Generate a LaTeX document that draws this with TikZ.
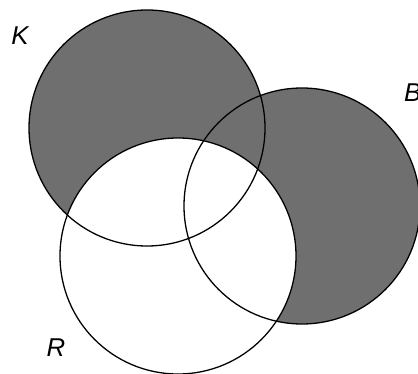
\documentclass[tikz,border=0pt]{standalone}
\usepackage{fontspec}
\setmainfont{Liberation Sans}
\usepackage{xcolor}
\usepackage{tikz}
\definecolor{setgray}{RGB}{111, 111, 111}

\begin{document}
\begin{tikzpicture}[
  x=0.03cm, y=-0.03cm,
  setline/.style={draw=black, line width=1.1pt},
  setlabel/.style={font=\fontsize{22}{26}\selectfont\itshape, inner sep=0pt}
]
\useasboundingbox (0,0) rectangle (418,374);
\clip (0,0) rectangle (418,374);

% Centres of the three sets
\coordinate (kc) at (147,128);
\coordinate (bc) at (302,206);
\coordinate (rc) at (178,256);

% Shaded region: K or B, but not R
\fill[setgray] (kc) circle[radius=118];
\fill[setgray] (bc) circle[radius=118];
\fill[white]   (rc) circle[radius=118];

% Outlines
\draw[setline] (kc) circle[radius=118];
\draw[setline] (bc) circle[radius=118];
\draw[setline] (rc) circle[radius=118];

% Labels
\node[setlabel] (klabel) at (20,36)  {K};
\node[setlabel, anchor=west] (blabel) at (404,93) {B};
\node[setlabel] (rlabel) at (56,348) {R};

\end{tikzpicture}
\end{document}
